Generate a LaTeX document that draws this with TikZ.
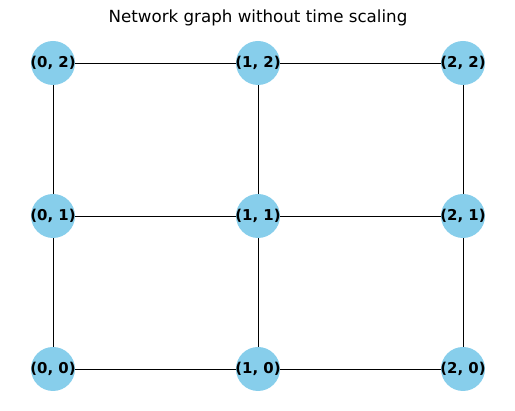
\documentclass[tikz,border=0pt]{standalone}
\usepackage{fontspec}
\setmainfont{DejaVu Sans}
\usetikzlibrary{calc, backgrounds}

\begin{document}
\begin{tikzpicture}[x=0.02cm, y=-0.02cm]
    % Fix the page to the size of the figure
    \useasboundingbox (0,0) rectangle (515,411);

    % Style of the grid vertices (the name is put in the middle as a label)
    \tikzset{vertex/.style={circle, fill={rgb,255:red,135;green,206;blue,235}, minimum size=0.88cm, inner sep=0pt,
        label={[font=\fontsize{8.5}{9}\selectfont\bfseries, inner sep=0pt]center:#1}}}

    % Title
    \node (title) at (258,18) {\fontsize{9.5}{10}\selectfont Network graph without time scaling};

    % Place the vertices on the grid
    \foreach \i/\x in {0/53, 1/258, 2/463} {
        \foreach \j/\y in {0/369, 1/216, 2/63} {
            \node[vertex={(\i, \j)}] (v\i\j) at (\x,\y) {};
        }
    }

    % Draw the edges between neighbouring vertices, behind the vertices
    \begin{scope}[on background layer]
    \foreach \i in {0,1,2} {
        \draw[line width=0.5pt] (v\i0.center) -- (v\i1.center);
        \draw[line width=0.5pt] (v\i1.center) -- (v\i2.center);
        \draw[line width=0.5pt] (v0\i.center) -- (v1\i.center);
        \draw[line width=0.5pt] (v1\i.center) -- (v2\i.center);
    }
    \end{scope}
\end{tikzpicture}
\end{document}
